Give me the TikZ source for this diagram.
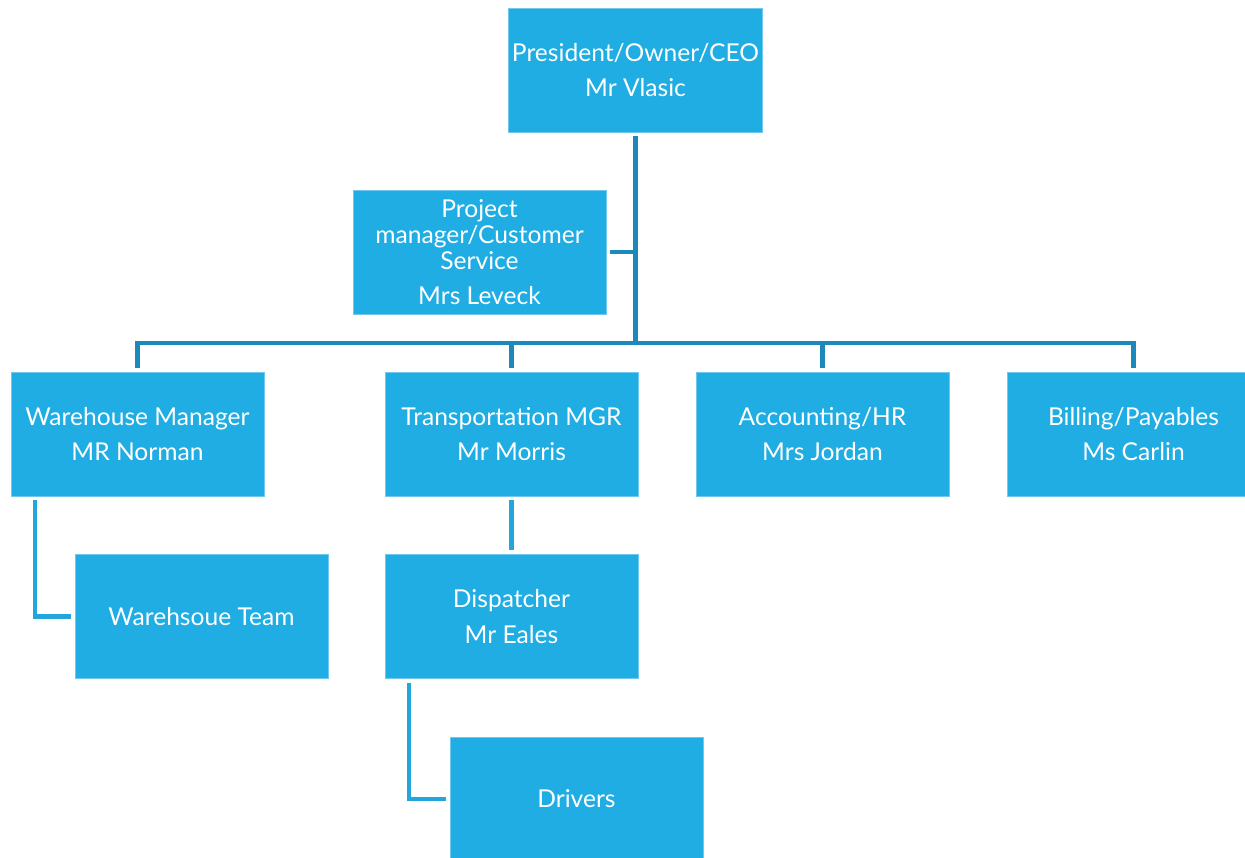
\documentclass[tikz,border=0pt]{standalone}
\usepackage{fontspec}
\setmainfont{Lato}
\usetikzlibrary{positioning}

\definecolor{BoxBlue}{RGB}{31,173,227}
\definecolor{EdgeBlue}{RGB}{112,200,238}
\definecolor{TreeBlue}{RGB}{27,138,186}
\definecolor{LinkBlue}{RGB}{34,166,219}

\begin{document}
\begin{tikzpicture}
	[x=0.02cm,
	y=-0.02cm]

\def\BoxWidth{5.06cm}
\def\BoxHeight{2.48cm}
\def\NameGap{5.5pt}
\def\Gap{0.08cm}

\tikzstyle{post}=[rectangle, fill=BoxBlue, draw=EdgeBlue, line width=0.4pt,
	text=white, align=center, inner sep=2pt,
	minimum width=\BoxWidth, minimum height=\BoxHeight,
	font=\fontsize{14}{14.8}\selectfont]
\tikzstyle{tree line}=[TreeBlue, line width=2.3pt]
\tikzstyle{sub line}=[LinkBlue, line width=2.3pt, shorten >=\Gap]

% Frame
\useasboundingbox (0,0) rectangle (1245,858);
\clip (0,0) rectangle (1245,858);

% Boxes
\node (ceo) [post] at (635.5, 70) {President/Owner/CEO\\[\NameGap]Mr Vlasic};
\node (pm) [post] at (479.5, 252)
	{Project\\manager/Customer\\Service\\[\NameGap]Mrs Leveck};

\node (wh) [post] at (137.5, 434) {Warehouse Manager\\[\NameGap]MR Norman};
\node (tr) [post] at (511.5, 434) {Transportation MGR\\[\NameGap]Mr Morris};
\node (acc) [post] at (822.5, 434) {Accounting/HR\\[\NameGap]Mrs Jordan};
\node (bill) [post] at (1133.5, 434) {Billing/Payables\\[\NameGap]Ms Carlin};

\node (whteam) [post] at (201.5, 616.5) {Warehsoue Team};
\node (disp) [post] at (511.5, 616.5) {Dispatcher\\[\NameGap]Mr Eales};
\node (drivers) [post] at (576.5, 799) {Drivers};

% Tree
\coordinate (bus) at (ceo.south |- 0, 343);
\draw [tree line, shorten <=\Gap] (ceo.south) -- (bus);
\draw [tree line, shorten <=\Gap] (pm.east) -- (pm.east -| ceo.south);
\draw [tree line, shorten <=\Gap, shorten >=\Gap]
	(wh.north) |- (bus) -| (bill.north);
\foreach \n in {tr, acc}
	\draw [tree line, shorten >=\Gap] (\n.north |- bus) -- (\n.north);

% Lower links
\draw [sub line] (wh.south west) ++(24, 4) |- (whteam.west);
\draw [sub line, shorten <=\Gap] (tr.south) -- (disp.north);
\draw [sub line] (disp.south west) ++(24, 4) |- (drivers.west);

\end{tikzpicture}
\end{document}
